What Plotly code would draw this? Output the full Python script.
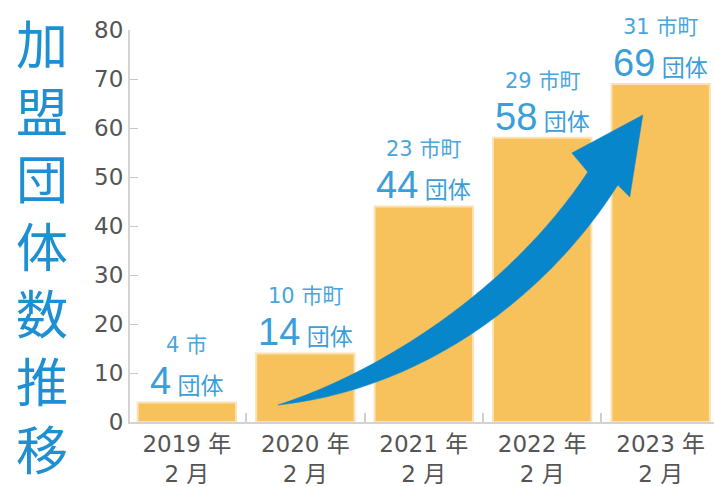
import plotly.graph_objects as go

# ---- data ----
years = ["2019 年", "2020 年", "2021 年", "2022 年", "2023 年"]
months = ["2 月", "2 月", "2 月", "2 月", "2 月"]
groups = [4, 14, 44, 58, 69]
muni_counts = [4, 10, 23, 29, 31]
muni_units = ["市", "市町", "市町", "市町", "市町"]
y_ticks = [0, 10, 20, 30, 40, 50, 60, 70, 80]
title_chars = list("加盟団体数推移")

BAR = "#F7C15C"
BLUE_TXT = "#3C9ED8"
ARROW = "#0786CC"
TITLE = "#1E8FD2"

xpos = list(range(len(years)))

fig = go.Figure()
fig.add_trace(go.Bar(
    x=xpos, y=groups, width=0.83,
    marker=dict(color=BAR, line=dict(color="#FCE2B2", width=2)),
    hoverinfo="skip",
))

# value labels above bars
for i, v in enumerate(groups):
    fig.add_annotation(
        x=i, y=v, xref="x", yref="y", yshift=57, yanchor="middle",
        text=f"{muni_counts[i]} {muni_units[i]}", showarrow=False,
        font=dict(family="DejaVu Sans, Noto Sans CJK JP", size=21, color="#4AA5DB"),
    )
    fig.add_annotation(
        x=i, y=v, xref="x", yref="y", yshift=21, yanchor="middle",
        text=f"<span style='font-size:38px'>{v}</span> 団体", showarrow=False,
        font=dict(family="Liberation Sans, Noto Sans CJK JP", size=23, color=BLUE_TXT),
    )

# vertical title as a single stacked text
plot_top, plot_h = 30, 392
title_center_px = 244
fig.add_annotation(
    x=0, xref="paper", xshift=42 - 130,
    y=(plot_top + plot_h - title_center_px) / plot_h, yref="paper",
    xanchor="center", yanchor="middle", showarrow=False,
    text="<br>".join(title_chars),
    font=dict(family="Noto Sans CJK JP", size=52, color=TITLE),
)

# decorative curved arrow (data coordinates)
arrow_path = (
    "M 0.769,3.47 C 1.630,10.20 2.727,26.94 3.385,51.02 "
    "L 3.250,54.90 L 3.849,62.65 L 3.739,45.92 L 3.638,48.37 "
    "C 3.022,24.90 1.967,6.53 0.769,3.47 Z"
)
fig.add_shape(type="path", path=arrow_path, xref="x", yref="y",
              fillcolor=ARROW, line=dict(color=ARROW, width=0.5), layer="above")

fig.update_layout(
    width=714, height=487,
    margin=dict(l=130, r=0, t=30, b=65, autoexpand=False),
    paper_bgcolor="white", plot_bgcolor="white",
    showlegend=False,
    xaxis=dict(
        range=[-0.48, 4.45], automargin=False,
        tickvals=xpos,
        ticktext=[f"{y}<br>{m}" for y, m in zip(years, months)],
        tickfont=dict(family="DejaVu Sans, Noto Sans CJK JP", size=23, color="#555555"),
        showline=True, linecolor="#D3D3D3", linewidth=2,
        ticks="", showgrid=False, zeroline=False, fixedrange=True,
        minor=dict(tickvals=[0.5, 1.5, 2.5, 3.5], ticks="inside", ticklen=9,
                   tickcolor="#CFCFCF", tickwidth=2),
    ),
    yaxis=dict(
        range=[0, 80], automargin=False,
        tickvals=y_ticks,
        tickfont=dict(family="DejaVu Sans", size=23, color="#555555"),
        showline=True, linecolor="#D3D3D3", linewidth=2,
        ticks="inside", ticklen=8, tickcolor="#C8C8C8", tickwidth=1,
        showgrid=False, zeroline=False, fixedrange=True,
    ),
)

fig.write_html(
    "out.html",
    config={"displayModeBar": False},
    post_script="document.body.style.margin='0';document.body.style.overflow='hidden';",
)
